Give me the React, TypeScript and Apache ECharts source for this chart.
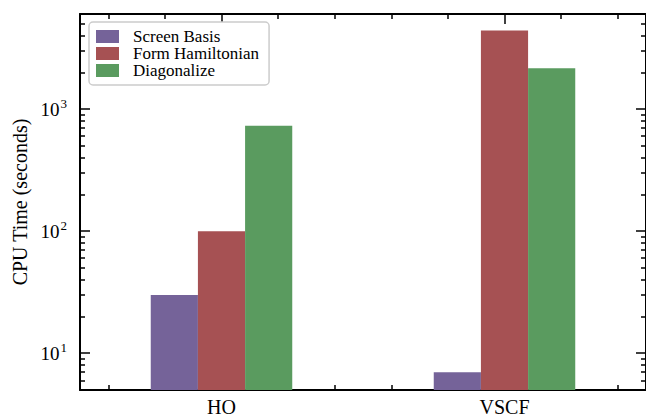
import React, { useEffect, useRef } from "react";
import * as echarts from "echarts";

// Benchmark data: CPU time per stage, log scale
const categories = ["HO", "VSCF"];
const seriesNames = ["Screen Basis", "Form Hamiltonian", "Diagonalize"];
const screenBasis = [30, 7];
const formHamiltonian = [100, 4400];
const diagonalize = [730, 2160];
const seriesColors = ["#756399", "#a65153", "#5a9b5f"];

// Tick values
const yMajorTicks = [10, 100, 1000];
const yMinorTicks = [
  6, 7, 8, 9,
  20, 30, 40, 50, 60, 70, 80, 90,
  200, 300, 400, 500, 600, 700, 800, 900,
  2000, 3000, 4000, 5000,
];
const xMinorTicks = [-0.4, -0.2, 0.2, 0.4, 0.6, 0.8, 1.2, 1.4];

const FONT = "Liberation Serif";
const Y_MIN = 5;
const Y_MAX = 6000;

export default function App() {
  const ref = useRef<HTMLDivElement>(null);

  useEffect(() => {
    if (!ref.current) return;
    const chart = echarts.init(ref.current, undefined, { renderer: "svg" });

    const tickLine = { color: "#000", width: 1.5 };
    const axisLine = { show: true, onZero: false, lineStyle: { color: "#000", width: 2 } };
    const noLine = { show: false, onZero: false };

    const catAxis = (position: "top" | "bottom", labels: boolean) => ({
      type: "category",
      data: categories,
      position,
      gridIndex: 0,
      axisLine,
      axisTick: { show: true, inside: true, alignWithLabel: true, length: 10, lineStyle: tickLine },
      axisLabel: {
        show: labels,
        margin: 7,
        fontFamily: FONT,
        fontSize: 20,
        color: "#000",
      },
      splitLine: { show: false },
    });

    const minorXAxis = (position: "top" | "bottom") => ({
      type: "value",
      min: -0.5,
      max: 1.5,
      position,
      gridIndex: 0,
      axisLine: noLine,
      axisTick: { show: true, inside: true, length: 5, lineStyle: tickLine, customValues: xMinorTicks },
      axisLabel: { show: false },
      splitLine: { show: false },
    });

    const logAxis = (position: "left" | "right", major: boolean, labels: boolean) => ({
      type: "log",
      logBase: 10,
      min: Y_MIN,
      max: Y_MAX,
      position,
      gridIndex: 0,
      axisLine: major ? axisLine : noLine,
      axisTick: {
        show: true,
        inside: true,
        length: major ? 10 : 5,
        lineStyle: tickLine,
        customValues: major ? yMajorTicks : yMinorTicks,
      },
      axisLabel: labels
        ? {
            show: true,
            margin: 13,
            customValues: yMajorTicks,
            formatter: (v: number) => `{b|10}{s|${Math.round(Math.log10(v))}}`,
            rich: {
              b: { fontFamily: FONT, fontSize: 19, color: "#000", lineHeight: 22 },
              s: { fontFamily: FONT, fontSize: 13, color: "#000", lineHeight: 22, padding: [0, 0, 11, 1] },
            },
          }
        : { show: false },
      splitLine: { show: false },
      ...(labels
        ? {
            name: "CPU Time (seconds)",
            nameLocation: "middle",
            nameGap: 48,
            nameTextStyle: { fontFamily: FONT, fontSize: 20, color: "#000" },
          }
        : {}),
    });

    const values = [screenBasis, formHamiltonian, diagonalize];

    chart.setOption({
      animation: false,
      backgroundColor: "#fff",
      grid: { left: 80, right: -6, top: 14, bottom: 25, containLabel: false },
      legend: {
        orient: "vertical",
        left: 89,
        top: 22,
        data: seriesNames,
        icon: "rect",
        itemWidth: 23,
        itemHeight: 13,
        itemGap: 0,
        padding: [6, 10, 6, 7],
        backgroundColor: "#fff",
        borderColor: "#cccccc",
        borderWidth: 1.5,
        borderRadius: 4,
        textStyle: {
          fontFamily: FONT,
          fontSize: 17,
          color: "#000",
          lineHeight: 16.5,
          padding: [0, 0, 0, 9],
        },
      },
      xAxis: [
        catAxis("bottom", true),
        minorXAxis("bottom"),
        catAxis("top", false),
        minorXAxis("top"),
      ],
      yAxis: [
        logAxis("left", true, true),
        logAxis("left", false, false),
        logAxis("right", true, false),
        logAxis("right", false, false),
      ],
      series: seriesNames.map((name, i) => ({
        name,
        type: "bar",
        xAxisIndex: 0,
        yAxisIndex: 0,
        data: values[i],
        barGap: "0%",
        barCategoryGap: "50%",
        clip: true,
        itemStyle: { color: seriesColors[i] },
      })),
    });

    return () => chart.dispose();
  }, []);

  return (
    <div
      ref={ref}
      style={{ position: "absolute", left: 0, top: 0, width: 646, height: 417 }}
    />
  );
}
